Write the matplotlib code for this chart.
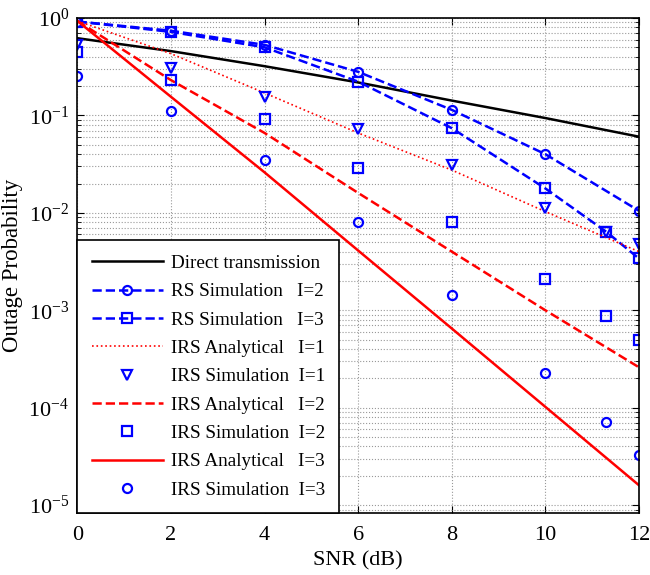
import numpy as np
import matplotlib
matplotlib.use("Agg")
import matplotlib.pyplot as plt

plt.rcParams['font.family'] = ['Liberation Serif', 'DejaVu Serif']
plt.rcParams['mathtext.fontset'] = 'stix'

# SNR 轴
snr_line = [0, 2, 4, 6, 8, 10, 12]
snr_sim = [0, 2, 4, 6, 8, 10, 11.3, 12]

# 直传
direct = [0.62, 0.457, 0.32, 0.218, 0.142, 0.094, 0.0605]

# RS 仿真
rs_i2 = [0.92, 0.74, 0.53, 0.28, 0.114, 0.040, 0.0105]
rs_i3 = [0.92, 0.72, 0.50, 0.222, 0.074, 0.0178, 0.0064, 0.0034]
snr_rs3 = [0, 2, 4, 6, 8, 10, 11.3, 12]

# IRS 理论值
irs_ana_i1 = [0.93, 0.43, 0.17, 0.066, 0.0275, 0.0103, 0.0040]
irs_ana_i2 = [0.93, 0.23, 0.066, 0.016, 0.0040, 0.0010, 0.00026]
irs_ana_i3 = [0.93, 0.155, 0.026, 0.0041, 0.00065, 0.000102, 0.000016]

# IRS 仿真
irs_sim_i1 = [0.53, 0.304, 0.156, 0.072, 0.031, 0.0111, 0.0063, 0.0048]
irs_sim_i2 = [0.45, 0.231, 0.091, 0.029, 0.0081, 0.00207, 0.00087, 0.00049]
irs_sim_i3 = [0.254, 0.112, 0.035, 0.0081, 0.00143, 0.000229, 0.000072, 0.000033]

fig = plt.figure(figsize=(6.5, 5.75), dpi=100)
ax = fig.add_axes([0.1192, 0.1078, 0.8638, 0.8609])

lw = 1.8
ms = 6.5
mew = 1.6
ax.semilogy(snr_line, direct, 'k-', linewidth=lw, label='Direct transmission')
ax.semilogy(snr_line, rs_i2, '--', color='b', linewidth=lw, marker='o', markersize=ms,
            markerfacecolor='none', markeredgewidth=mew, label='RS Simulation   I=2')
ax.semilogy(snr_rs3, rs_i3, '--', color='b', linewidth=lw, marker='s', markersize=ms,
            markerfacecolor='none', markeredgewidth=mew, label='RS Simulation   I=3')
ax.semilogy(snr_line, irs_ana_i1, ':', color='r', linewidth=1.2, label='IRS Analytical   I=1')
ax.semilogy(snr_sim, irs_sim_i1, linestyle='none', color='b', marker='v', markersize=ms + 0.5,
            markerfacecolor='none', markeredgewidth=mew, label='IRS Simulation  I=1')
ax.semilogy(snr_line, irs_ana_i2, '--', color='r', linewidth=lw, label='IRS Analytical   I=2')
ax.semilogy(snr_sim, irs_sim_i2, linestyle='none', color='b', marker='s', markersize=ms,
            markerfacecolor='none', markeredgewidth=mew, label='IRS Simulation  I=2')
ax.semilogy(snr_line, irs_ana_i3, '-', color='r', linewidth=lw, label='IRS Analytical   I=3')
ax.semilogy(snr_sim, irs_sim_i3, linestyle='none', color='b', marker='o', markersize=ms,
            markerfacecolor='none', markeredgewidth=mew, label='IRS Simulation  I=3')

ax.set_xlim(0, 12)
ax.set_ylim(8.3e-6, 1)
ax.set_xticks([0, 2, 4, 6, 8, 10, 12])
ax.set_yticks([1e-5, 1e-4, 1e-3, 1e-2, 1e-1, 1])
ax.yaxis.set_minor_locator(matplotlib.ticker.LogLocator(base=10, subs=np.arange(2, 10)))
ax.yaxis.set_minor_formatter(matplotlib.ticker.NullFormatter())
ax.tick_params(which='both', direction='in', top=True, right=True, labelsize=16)
ax.tick_params(axis='x', pad=9)
ax.tick_params(axis='y', pad=6)
ax.tick_params(which='major', length=5)
ax.tick_params(which='minor', length=3)
ax.grid(True, which='major', linestyle=':', color='#999999', linewidth=0.8)
ax.grid(True, which='minor', axis='y', linestyle=':', color='#999999', linewidth=0.8)
for sp in ax.spines.values():
    sp.set_linewidth(1.2)

ax.set_xlabel('SNR (dB)', fontsize=16, labelpad=5)
ax.set_ylabel('Outage Probability', fontsize=16.5, labelpad=4)

leg = ax.legend(loc='lower left', bbox_to_anchor=(0, 0), borderaxespad=0, fontsize=13.8,
                fancybox=False, edgecolor='k', framealpha=1, handlelength=3.7,
                labelspacing=0.57, borderpad=0.75, handletextpad=0.42)
leg.get_frame().set_linewidth(1.2)

fig.savefig('out.png', dpi=100)
